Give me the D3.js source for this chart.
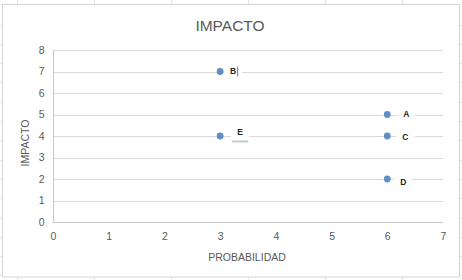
<!DOCTYPE html>
<html><head><meta charset="utf-8">
<script src="https://cdn.jsdelivr.net/npm/d3@7/dist/d3.min.js"></script>
<style>html,body{margin:0;padding:0;background:#fff;}svg{display:block;}</style>
</head><body>
<script>
const names = ["A","B","C","D","E"];
const probabilidad = [6,3,6,6,3];
const impacto = [5,7,4,2,4];
const xTicks = [0,1,2,3,4,5,6,7];
const yTicks = [0,1,2,3,4,5,6,7,8];

const W = 462, H = 280;
const svg = d3.select("body").append("svg").attr("width", W).attr("height", H);
const font = "'Liberation Sans', Arial, sans-serif";
const txt = "#595959";

// spreadsheet cell grid behind the chart
const cellCols = d3.range(17.5, W, 77);
const cellRows = d3.range(24.5, H, 19.3);
svg.selectAll(".cc").data(cellCols).join("line").attr("x1", d=>d).attr("x2", d=>d)
  .attr("y1", 0).attr("y2", H).attr("stroke", "#e3e3e3");
svg.selectAll(".cr").data(cellRows).join("line").attr("y1", d=>Math.round(d)+0.5).attr("y2", d=>Math.round(d)+0.5)
  .attr("x1", 0).attr("x2", W).attr("stroke", "#e3e3e3");

// chart area
svg.append("rect").attr("x", 2.5).attr("y", 4.5).attr("width", 457).attr("height", 272.5)
  .attr("fill", "#fff").attr("stroke", "#d4d4d4");

const x = d3.scaleLinear().domain([0,7]).range([53, 443]);
const y = d3.scaleLinear().domain([0,8]).range([222, 50]);

// gridlines
svg.append("g").selectAll("line").data(yTicks.filter(d=>d>0)).join("line")
  .attr("x1", x(0)).attr("x2", x(7))
  .attr("y1", d=>Math.round(y(d))+0.5).attr("y2", d=>Math.round(y(d))+0.5)
  .attr("stroke", "#d9d9d9");

// axes
const xAxis = svg.append("g").attr("transform", `translate(0,${Math.round(y(0))+0.5})`)
  .call(d3.axisBottom(x).tickValues(xTicks).tickSize(0).tickPadding(10).tickFormat(d3.format("d")));
const yAxis = svg.append("g").attr("transform", `translate(${Math.round(x(0))+0.5},0)`)
  .call(d3.axisLeft(y).tickValues(yTicks).tickSize(0).tickPadding(9).tickFormat(d3.format("d")));
[xAxis, yAxis].forEach(g => {
  g.select(".domain").attr("stroke", "#c8c8c8");
  g.selectAll("text").attr("fill", txt).style("font-family", font).style("font-size", "10.5px");
});
yAxis.select(".domain").attr("d", `M0,${y(8)}V${y(0)}`);
xAxis.select(".domain").attr("d", `M0,0H${x(7)-x(0)}`).attr("transform", `translate(${x(0)},0)`);

// titles
svg.append("text").attr("x", 230).attr("y", 31).attr("text-anchor", "middle")
  .attr("fill", txt).style("font-family", font).style("font-size", "15.5px").text("IMPACTO");
svg.append("text").attr("x", 247).attr("y", 261).attr("text-anchor", "middle")
  .attr("fill", txt).style("font-family", font).style("font-size", "10.5px").text("PROBABILIDAD");
svg.append("text").attr("transform", "translate(29,143) rotate(-90)").attr("text-anchor", "middle")
  .attr("fill", txt).style("font-family", font).style("font-size", "10.5px").text("IMPACTO");

// data
const data = names.map((n,i)=>({n, x: probabilidad[i], y: impacto[i]}));
const labelStyle = {A:{dx:19,dy:0}, B:{dx:13,dy:0}, C:{dx:18,dy:1}, D:{dx:16,dy:3}, E:{dx:20,dy:-4}};

const lab = svg.append("g").selectAll("g").data(data).join("g")
  .attr("transform", d=>`translate(${x(d.x)+labelStyle[d.n].dx},${y(d.y)+labelStyle[d.n].dy})`);
lab.append("rect").attr("x", -9).attr("y", -6).attr("width", 18).attr("height", 12).attr("fill", "#fff");
lab.append("text").attr("text-anchor", "middle").attr("dy", "0.35em")
  .attr("fill", "#262626").style("font-family", font).style("font-size", "8.5px").style("font-weight", "bold")
  .text(d=>d.n);

// text cursor after B and selection bar under E
const b = data.find(d=>d.n==="B"), e = data.find(d=>d.n==="E");
svg.append("line").attr("x1", x(b.x)+17.5).attr("x2", x(b.x)+17.5)
  .attr("y1", y(b.y)-5).attr("y2", y(b.y)+5).attr("stroke", "#555").attr("stroke-width", 0.8);
svg.append("rect").attr("x", x(e.x)+12).attr("y", y(e.y)+4.5).attr("width", 16).attr("height", 2)
  .attr("fill", "#c9c9c9");

svg.append("g").selectAll("circle").data(data).join("circle")
  .attr("cx", d=>x(d.x)).attr("cy", d=>y(d.y)).attr("r", 3.4).attr("fill", "#5f8fc4");
</script>
</body></html>
